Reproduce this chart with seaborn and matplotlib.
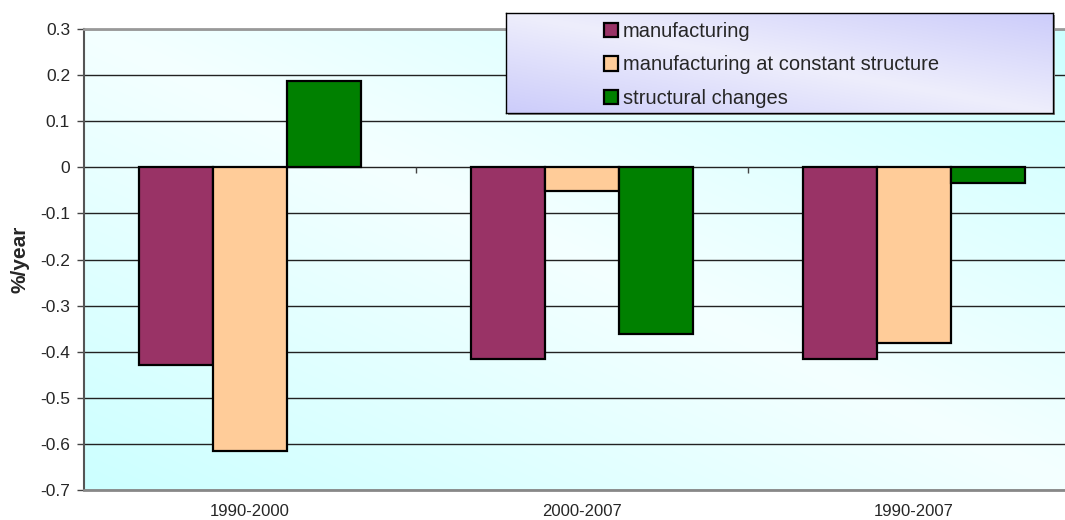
import numpy as np
import pandas as pd
import matplotlib
matplotlib.use('Agg')
import matplotlib.pyplot as plt
import matplotlib.patches as mpatches
from matplotlib.colors import to_rgb
import seaborn as sns

# dane z wykresu
okresy = ['1990-2000', '2000-2007', '1990-2007']
serie = ['manufacturing', 'manufacturing at constant structure', 'structural changes']
manufacturing = [-0.429, -0.415, -0.416]
constant_structure = [-0.616, -0.052, -0.382]
structural_changes = [0.187, -0.362, -0.034]
kolory = ['#993366', '#FFCC99', '#008000']
y_ticks = [0.3, 0.2, 0.1, 0, -0.1, -0.2, -0.3, -0.4, -0.5, -0.6, -0.7]

df = pd.DataFrame({
    'okres': okresy * 3,
    'seria': [serie[0]] * 3 + [serie[1]] * 3 + [serie[2]] * 3,
    'wartosc': manufacturing + constant_structure + structural_changes,
})

sns.set_style('white')
plt.rcParams['font.family'] = ['Liberation Sans', 'DejaVu Sans']

W, H = 1065, 520
fig = plt.figure(figsize=(W / 100, H / 100), dpi=100)
ax = fig.add_axes([84 / W, 1 - 490 / H, (1080 - 84) / W, (490 - 29) / H])


def gradient(c_light, c_dark, n=200):
    u, v = np.meshgrid(np.linspace(0, 1, n), np.linspace(0, 1, n))
    t = np.abs(u - v)[..., None]
    a = np.array(to_rgb(c_light))
    b = np.array(to_rgb(c_dark))
    return a + t * (b - a)


# tlo obszaru wykresu
ax.imshow(gradient('#F4FFFF', '#CCFFFF'), extent=[0, 1, 0, 1], transform=ax.transAxes,
          aspect='auto', zorder=0, interpolation='bilinear')

sns.barplot(data=df, x='okres', y='wartosc', hue='seria', order=okresy, hue_order=serie,
            palette=dict(zip(serie, kolory)), width=0.666, edgecolor='black', linewidth=1.6,
            saturation=1, errorbar=None, ax=ax, zorder=3)

ax.set_xlim(-0.5, 2.5)
ax.set_ylim(-0.7, 0.3)
ax.set_yticks(y_ticks)
ax.set_yticklabels([f'{t:g}' for t in y_ticks])
ax.yaxis.grid(True, color='#222222', linewidth=1.0, zorder=1)
ax.set_axisbelow(True)

ax.tick_params(axis='y', direction='out', length=5, width=1, color='#444444', pad=5,
               labelsize=12.5, left=True)
ax.tick_params(axis='x', length=0, pad=10, labelsize=12)
ax.set_xlabel('')
ax.set_ylabel('%/year', fontsize=15, fontweight='bold')
ax.yaxis.set_label_coords(-0.064, 0.5)
ax.yaxis.label.set_va('center')

# kreski podzialu kategorii na osi zero
ax.vlines([0.5, 1.5], -0.012, 0, color='#444444', linewidth=1, zorder=2)

ax.spines['left'].set_color('#555555')
ax.spines['left'].set_linewidth(1.5)
ax.spines['bottom'].set_color('#888888')
ax.spines['bottom'].set_linewidth(2)
ax.spines['top'].set_color('#999999')
ax.spines['top'].set_linewidth(2)
ax.spines['right'].set_visible(False)

handles, labels = ax.get_legend_handles_labels()
if ax.get_legend() is not None:
    ax.get_legend().remove()

# legenda z gradientem
lx0, lx1, ly0, ly1 = 506, 1053, 13, 113
shadow = mpatches.Rectangle(((lx0 + 2) / W, 1 - (ly1 + 2) / H), (lx1 - lx0) / W, (ly1 - ly0) / H,
                            transform=fig.transFigure, facecolor='#888888', edgecolor='none',
                            zorder=1.5)
fig.patches.append(shadow)
lax = fig.add_axes([lx0 / W, 1 - ly1 / H, (lx1 - lx0) / W, (ly1 - ly0) / H], zorder=2)
lax.imshow(gradient('#EEEEFC', '#CCCCFA'), extent=[0, 1, 0, 1], aspect='auto',
           interpolation='bilinear')
lax.set_xticks([])
lax.set_yticks([])
for s in lax.spines.values():
    s.set_color('black')
    s.set_linewidth(1)

leg = fig.legend(handles, labels, loc='upper left', bbox_to_anchor=(604 / W, 1 - 22 / H),
                 frameon=False, fontsize=14.5, borderpad=0, borderaxespad=0,
                 handlelength=0.7, handleheight=0.75, handletextpad=0.25, labelspacing=0.72)
for h in leg.legend_handles:
    h.set_edgecolor('black')
    h.set_linewidth(1.6)

fig.savefig('out.png', dpi=100)
